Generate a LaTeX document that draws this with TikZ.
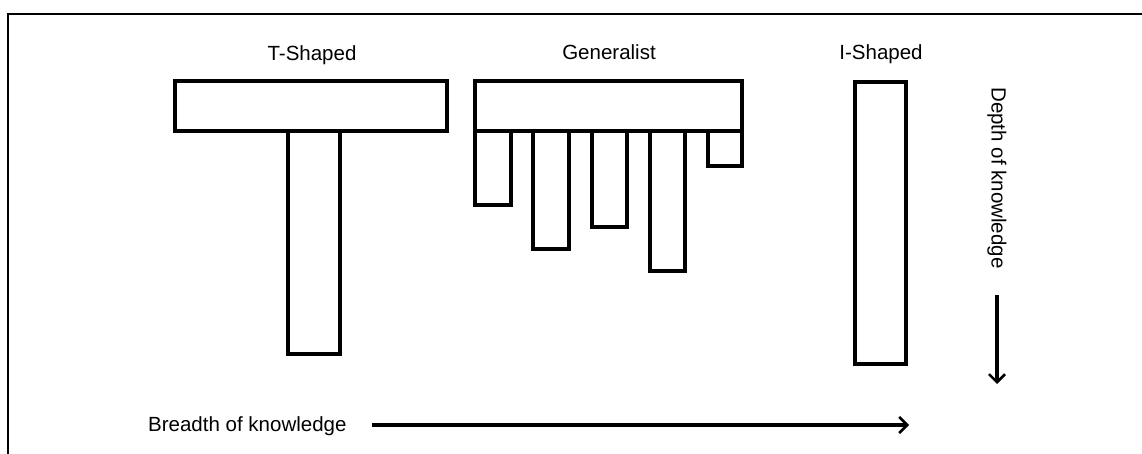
\documentclass[tikz,border=0pt]{standalone}
\usepackage{fontspec}
\setmainfont{Liberation Sans}
\usetikzlibrary{arrows.meta}
\begin{document}
\begin{tikzpicture}[x=1pt,y=-1pt,
  bar/.style={draw=black,line width=3.5pt,fill=white},
  lbl/.style={font=\fontsize{20.5}{23}\selectfont,inner sep=0pt},
  axis/.style={line width=3.5pt,-{Straight Barb[length=8pt,width=16pt,line width=2.5pt]}}]
\useasboundingbox (0,0) rectangle (1142,454);
\draw[line width=2pt] (8,14) rectangle (1160,470);
% T-shaped
\draw[bar] (288,131) rectangle (340,354);
\draw[bar] (175,81) rectangle (447,131);
% Generalist
\draw[bar] (475,131) rectangle (511,205);
\draw[bar] (533,131) rectangle (569,249);
\draw[bar] (592,131) rectangle (627,227);
\draw[bar] (650,131) rectangle (685,271);
\draw[bar] (708,131) rectangle (742,166);
\draw[bar] (475,81) rectangle (742,131);
% I-shaped
\draw[bar] (855,82) rectangle (906,364);
% labels
\node[lbl,anchor=base] (tlab) at (312,61) {T-Shaped};
\node[lbl,anchor=base] (glab) at (609,60) {Generalist};
\node[lbl,anchor=base] (ilab) at (881,60) {I-Shaped};
\node[lbl,anchor=base west] (breadth) at (148,431) {Breadth of knowledge};
\node[lbl,rotate=-90] (depth) at (997,178) {Depth of knowledge};
\coordinate (bstart) at (372,425);
\coordinate (bend) at (909,425);
\coordinate (dstart) at (997,295);
\coordinate (dend) at (997,384);
\draw[axis] (bstart) -- (bend);
\draw[axis] (dstart) -- (dend);
\end{tikzpicture}
\end{document}
